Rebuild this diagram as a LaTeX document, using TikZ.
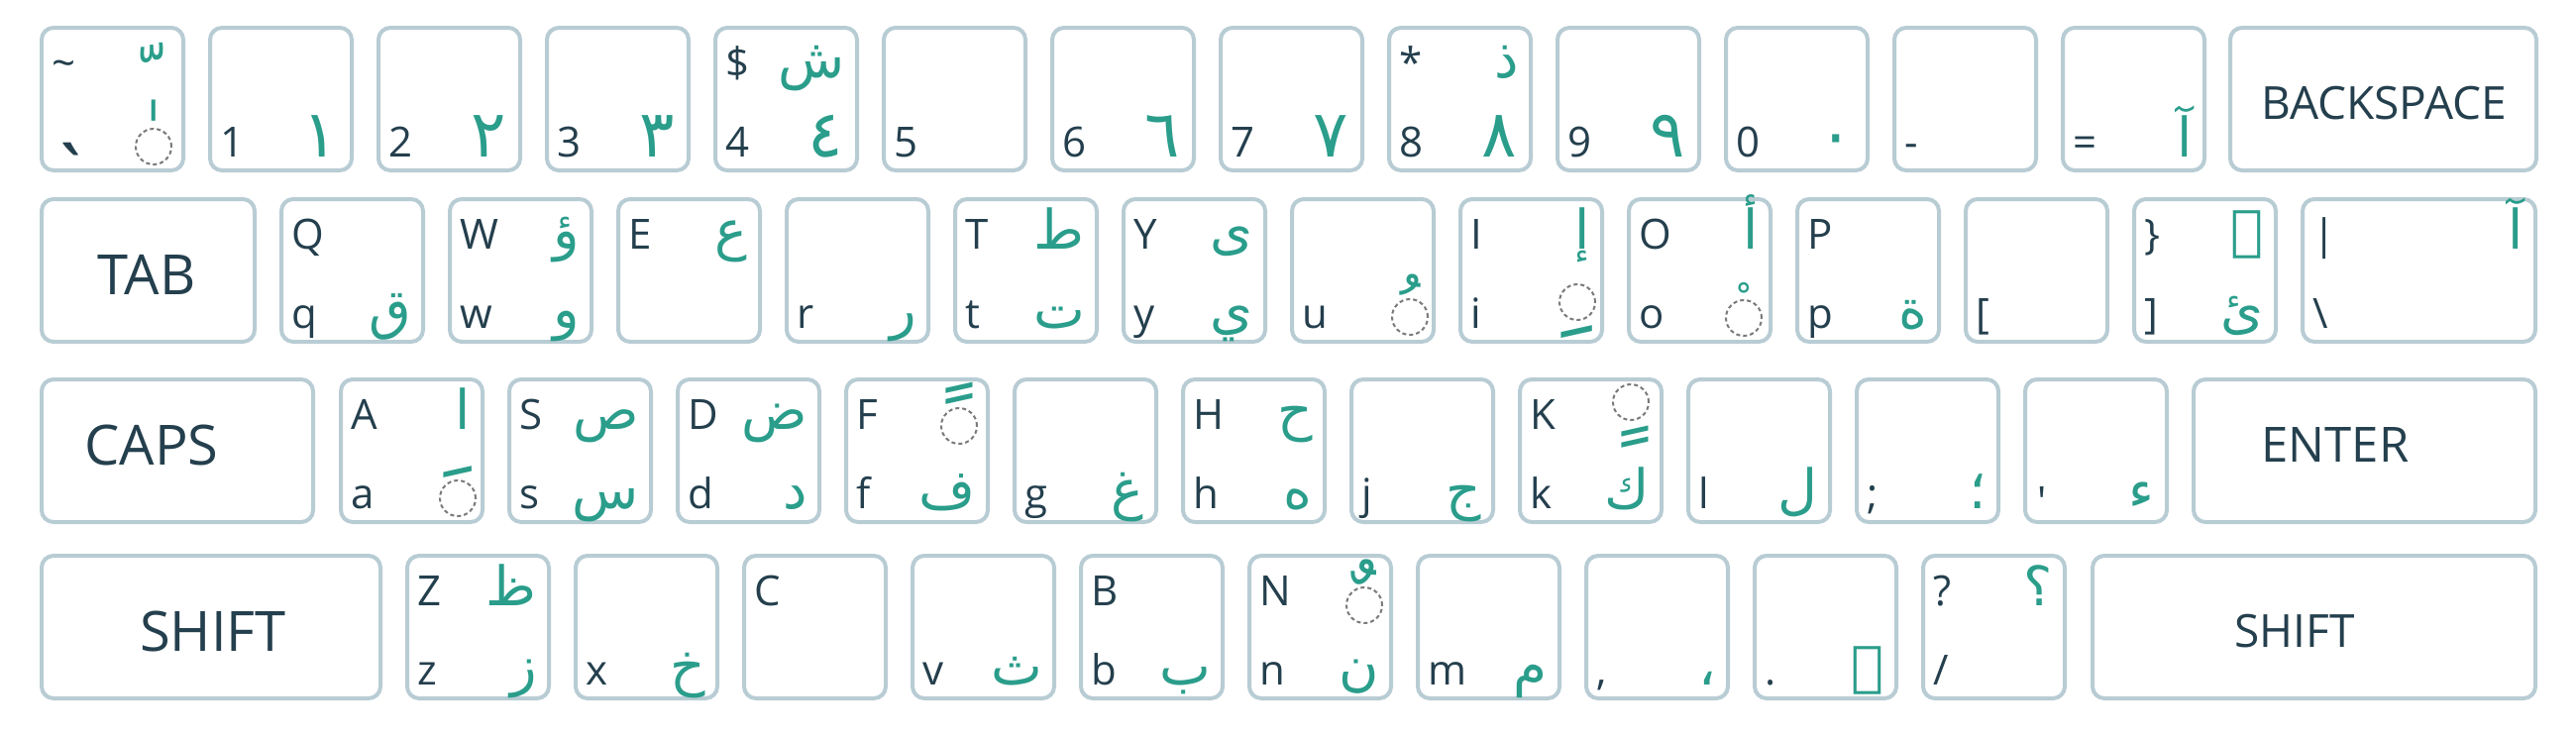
\documentclass[tikz,border=0pt]{standalone}
\usepackage{fontspec}
\setmainfont{Open Sans}
\newfontfamily\arabicfont[Script=Arabic]{DejaVu Sans}
\TeXXeTstate=1
\definecolor{keyborder}{HTML}{B8CCD4}
\definecolor{latc}{HTML}{243F4D}
\definecolor{arc}{HTML}{2A9D8B}
\definecolor{circc}{HTML}{7A7A7A}
\tikzset{
  keybox/.style={draw=keyborder, fill=white, line width=4pt, rounded corners=12pt,
    minimum height=144pt, anchor=north west, inner sep=0pt},
  lat/.style={text=latc, font=\fontsize{42}{50}\selectfont, inner sep=0pt},
  arb/.style={text=arc, font=\arabicfont\fontsize{55}{60}\selectfont, inner sep=0pt},
  ard/.style={text=arc, font=\arabicfont\fontsize{66}{70}\selectfont, inner sep=0pt},
  mkf/.style={text=arc, inner sep=0pt, anchor=base},
  bigl/.style={text=latc, font=\fontsize{56}{60}\selectfont, inner sep=0pt},
  midl/.style={text=latc, font=\fontsize{46}{50}\selectfont, inner sep=0pt},
  mcirc/.style={circle, draw=circc, line width=2pt, dash pattern=on 4pt off 3pt,
    minimum size=36pt, inner sep=0pt},
}
\newcommand\kk[4][147]{\node[keybox, minimum width=#1pt-4pt] (#2) at (#3,#4) {};}
\newcommand\tl[2]{\node[lat, anchor=base west] (#1-tl) at ([xshift=12pt,yshift=-52pt]#1.north west) {#2};}
\newcommand\bl[2]{\node[lat, anchor=base west] (#1-bl) at ([xshift=12pt,yshift=-132pt]#1.north west) {#2};}
\newcommand\tr[2]{\node[arb, anchor=base east] (#1-tr) at ([xshift=-14pt,yshift=-52pt]#1.north east) {\beginR#2\endR};}
\newcommand\br[2]{\node[arb, anchor=base east] (#1-br) at ([xshift=-14pt,yshift=-132pt]#1.north east) {\beginR#2\endR};}
\newcommand\bd[2]{\node[ard, anchor=base east] (#1-br) at ([xshift=-16pt,yshift=-132pt]#1.north east) {\beginR#2\endR};}
% dotted circle: key, dx from right, dy from top
\newcommand\dc[3]{\node[mcirc] (#1-c) at ([xshift=-#2pt,yshift=-#3pt]#1.north east) {};}
% diacritic: key, mark, font size, dx from right, dy from top (base point), ink top, minus ink bottom (em)
\newcommand\mk[7]{\node[mkf, font=\arabicfont\fontsize{#3}{#3}\selectfont] (#1-m) at ([xshift=-#4pt,yshift=-#5pt]#1.north east) {\raisebox{0pt}[#6em][#7em]{#2}};}
\begin{document}
\begin{tikzpicture}[x=1pt,y=-1pt]
\useasboundingbox[fill=white] (0,0) rectangle (2600,742);
% ---------- row 1 ----------
\foreach \i in {0,...,12} {\pgfmathsetmacro\xx{40+170*\i}\kk{n\i}{\xx}{26}}
\kk[313]{bs}{2249}{26}
\node[midl] (bs-t) at (2406,104) {BACKSPACE};
\tl{n0}{\textasciitilde}
\mk{n0}{^^^^fe7c}{75}{33.5}{82}{0.88}{-0.6}
\node[text=latc, font=\fontsize{80}{80}\selectfont, inner sep=0pt, anchor=base west] (n0-bl) at ([xshift=8pt,yshift=-179pt]n0.north west) {\raisebox{0pt}[0.8em][-0.58em]{\textasciigrave}};
\dc{n0}{32}{122}
\node[mkf, font=\arabicfont\fontsize{75}{75}\selectfont] (n0-a) at ([xshift=-32pt,yshift=-141pt]n0.north east) {\raisebox{0pt}[0.9em][-0.6em]{\makebox[0.5em][l]{^^^^0670}}};
\bl{n1}{1}\bd{n1}{١}
\bl{n2}{2}\bd{n2}{٢}
\bl{n3}{3}\bd{n3}{٣}
\tl{n4}{\$}\tr{n4}{ش}\bl{n4}{4}\bd{n4}{٤}
\bl{n5}{5}
\bl{n6}{6}\bd{n6}{٦}
\bl{n7}{7}\bd{n7}{٧}
\tl{n8}{*}\tr{n8}{ذ}\bl{n8}{8}\bd{n8}{٨}
\bl{n9}{9}\bd{n9}{٩}
\bl{n10}{0}\bd{n10}{٠}
\bl{n11}{-}
\bl{n12}{=}\br{n12}{آ}
% ---------- row 2 ----------
\kk[219]{tab}{40}{199}
\node[bigl] (tab-t) at (148,277) {TAB};
\foreach \n [count=\i from 0] in {q,w,e,r,t,y,u,i,o,p,lb,rb} {\pgfmathsetmacro\xx{282+170*\i}\kk{\n}{\xx}{199}}
\kk[239]{bsl}{2322}{199}
\tl{q}{Q}\bl{q}{q}\br{q}{ق}
\tl{w}{W}\tr{w}{ؤ}\bl{w}{w}\br{w}{و}
\tl{e}{E}\tr{e}{ع}
\bl{r}{r}\br{r}{ر}
\tl{t}{T}\tr{t}{ط}\bl{t}{t}\br{t}{ت}
\tl{y}{Y}\tr{y}{ى}\bl{y}{y}\br{y}{ي}
\bl{u}{u}\dc{u}{26}{121}\mk{u}{^^^^fe78}{75}{26}{143}{0.88}{-0.59}
\tl{i}{I}\tr{i}{إ}\bl{i}{i}\dc{i}{27}{106}\mk{i}{^^^^fe7a}{110}{27}{127}{0.02}{0.13}
\tl{o}{O}\tr{o}{أ}\bl{o}{o}\dc{o}{29}{122}\mk{o}{^^^^fe7e}{40}{29}{121}{0.88}{-0.6}
\tl{p}{P}\bl{p}{p}\br{p}{ة}
\bl{lb}{[}
\tl{rb}{\}}\tr{rb}{ٱ}\bl{rb}{]}\br{rb}{ئ}
\tl{bsl}{\textbar}\tr{bsl}{آ}\bl{bsl}{\textbackslash}
% ---------- row 3 ----------
\kk[278]{caps}{40}{381}
\node[bigl] (caps-t) at (153,449) {CAPS};
\foreach \n [count=\i from 0] in {a,s,d,f,g,h,j,k,l,sc,qt} {\pgfmathsetmacro\xx{342+170*\i}\kk{\n}{\xx}{381}}
\kk[349]{enter}{2212}{381}
\node[text=latc, font=\fontsize{49}{55}\selectfont, inner sep=0pt] (enter-t) at (2357,449) {ENTER};
\tl{a}{A}\tr{a}{ا}\bl{a}{a}\dc{a}{27}{122}\mk{a}{^^^^fe76}{100}{27}{160}{0.72}{-0.59}
\tl{s}{S}\tr{s}{ص}\bl{s}{s}\br{s}{س}
\tl{d}{D}\tr{d}{ض}\bl{d}{d}\br{d}{د}
\tl{f}{F}\dc{f}{31}{49}\mk{f}{^^^^fe70}{95}{31}{83}{0.84}{-0.59}\bl{f}{f}\br{f}{ف}
\bl{g}{g}\br{g}{غ}
\tl{h}{H}\tr{h}{ح}\bl{h}{h}\br{h}{ه}
\bl{j}{j}\br{j}{ج}
\tl{k}{K}\dc{k}{33}{25}\mk{k}{^^^^fe74}{95}{29}{48}{0.01}{0.24}\bl{k}{k}\br{k}{ك}
\bl{l}{l}\br{l}{ل}
\bl{sc}{;}\br{sc}{؛}
\node[lat, anchor=base west] (qt-bl) at ([xshift=14pt,yshift=-140pt]qt.north west) {\textquotesingle};
\br{qt}{ء}
% ---------- row 4 ----------
\kk[346]{lsh}{40}{559}
\node[bigl] (lsh-t) at (215,637) {SHIFT};
\foreach \n [count=\i from 0] in {z,x,c,v,b,nn,m,cm,pd,sl} {\pgfmathsetmacro\xx{409+170*\i}\kk{\n}{\xx}{559}}
\kk[451]{rsh}{2110}{559}
\node[midl] (rsh-t) at (2316,637) {SHIFT};
\tl{z}{Z}\tr{z}{ظ}\bl{z}{z}\br{z}{ز}
\bl{x}{x}\br{x}{خ}
\tl{c}{C}
\bl{v}{v}\br{v}{ث}
\tl{b}{B}\bl{b}{b}\br{b}{ب}
\tl{nn}{N}\dc{nn}{29}{52}\mk{nn}{^^^^fe72}{90}{29}{84}{0.88}{-0.59}\bl{nn}{n}\br{nn}{ن}
\bl{m}{m}\br{m}{م}
\bl{cm}{,}\br{cm}{،}
\bl{pd}{.}\br{pd}{۔}
\tl{sl}{?}\tr{sl}{؟}\bl{sl}{/}
\end{tikzpicture}
\end{document}
